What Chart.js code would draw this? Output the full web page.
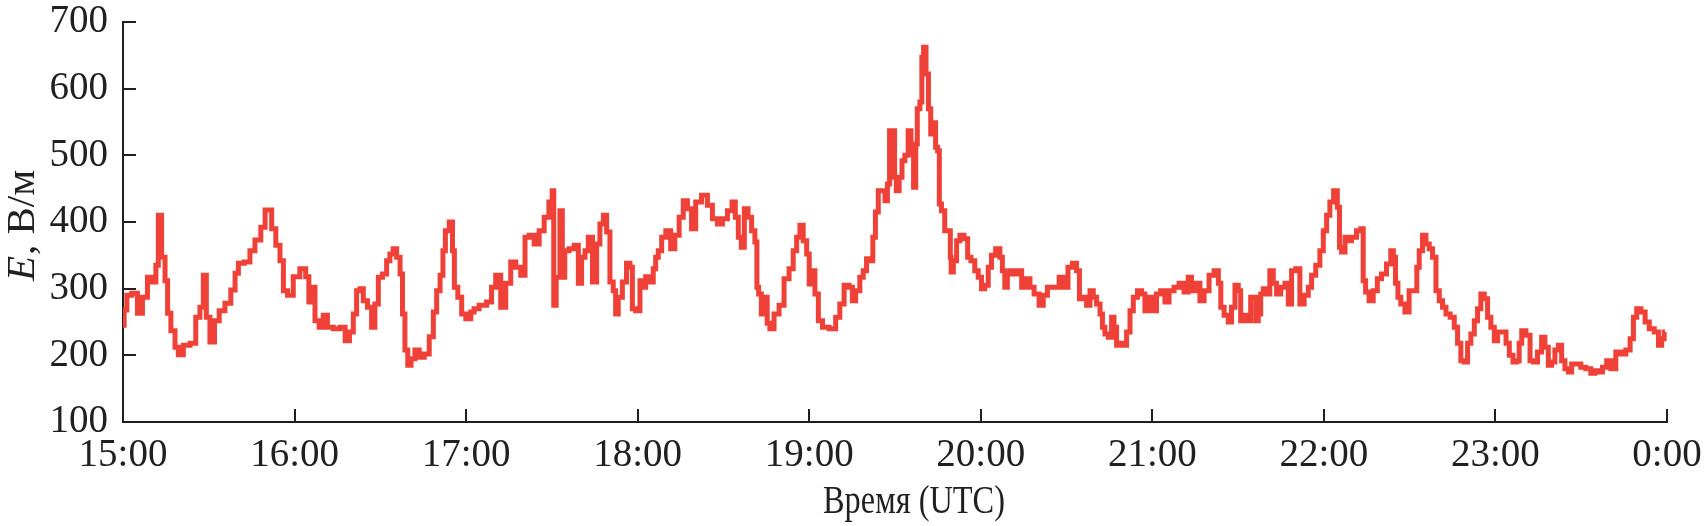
<!DOCTYPE html>
<html lang="ru">
<head>
  <meta charset="UTF-8">
  <title>E, В/м</title>
  <script src="https://cdn.jsdelivr.net/npm/chart.js"></script>
  <style>
    html, body { margin: 0; padding: 0; background: #fff; }
    #wrap { width: 1705px; height: 526px; position: relative; }
  </style>
</head>
<body>
  <div id="wrap"><canvas id="fieldChart"></canvas></div>

  <script>
    // minutes after 15:00 UTC
    const minutes = [
      0, 0.8, 1.9, 4.2, 5.9, 7.7, 9.4, 11.2, 11.8, 12.9, 14.1, 15.3, 15.9, 17.6, 18.8, 19.9,
      22.3, 24.6, 26.3, 27.5, 28.7, 29.6, 31.2, 32.8, 34.5, 36.8, 38.6, 39.8, 40.9, 43.8, 45,
      47.3, 49.1, 50.3, 51.4, 52.6, 54.3, 55.5, 56.7, 58.4, 60.7, 63, 64.8, 65.2, 66.6, 67.7,
      69.5, 70.6, 72.4, 74.7, 77, 78.4, 80, 81.1, 82.3, 83.5, 84.6, 86.4, 87.5, 88.7, 89.9,
      91.6, 92.8, 93.9, 95.1, 96.3, 97.5, 98, 99.2, 100, 101.5, 102.7, 104.5, 106.2, 108,
      109.1, 110.3, 111.5, 112.3, 113.2, 115, 115.5, 116.3, 117.9, 119, 120.8, 122.5, 123.1,
      126, 128.3, 129.5, 131.2, 133, 134.7, 136.5, 138.2, 140, 141.2, 142.9, 144.7, 146.4,
      148.2, 149.7, 150.5, 150.8, 152.2, 153.4, 153.9, 155.1, 156.9, 158.7, 159.8, 161, 162.2,
      163.3, 165.1, 166.2, 167.4, 168.6, 169.7, 170.9, 172, 172.6, 173.8, 175.5, 176.7, 177.9,
      178.4, 180.2, 181.4, 182.5, 183.1, 184.9, 186, 186.6, 187.8, 189, 190.7, 192.4, 193.6,
      195.4, 196.5, 198.3, 199.4, 201.2, 203.5, 205.3, 207, 208.8, 210.5, 212.3, 213.7, 214.6,
      215.8, 216.7, 217.9, 219.3, 220.4, 221.6, 221.8, 222.8, 223.7, 224.9, 225.7, 226.8,
      228.6, 230.3, 232.1, 233.8, 235, 236.2, 237.3, 238.5, 239.7, 240.3, 241.4, 242.6, 243.8,
      245.5, 248.4, 250.1, 251.3, 253.1, 254.8, 255.4, 257.1, 258.3, 259.5, 260.6, 261.8,
      262.7, 263.6, 264.7, 265.9, 267.1, 267.6, 268.6, 269.7, 270, 270.9, 272, 272.9, 274,
      275.2, 276, 277, 277.5, 278.1, 279.3, 279.5, 280.5, 281.2, 282.2, 282.8, 283.9, 284.5,
      285.3, 285.7, 286.8, 288, 289.2, 289.5, 289.8, 291, 292.1, 293.3, 295, 295.8, 297.3,
      298.5, 299.7, 300.8, 302, 303.2, 304.3, 306.1, 307.3, 307.8, 309, 309.6, 310.8, 311.9,
      313.7, 314.9, 316.6, 317.8, 319.5, 321.3, 322.4, 324.2, 326.5, 328.3, 329.8, 331.2,
      332.9, 334.1, 334.9, 336.4, 337.6, 338.8, 339.9, 341.1, 342.3, 342.8, 344, 345.2, 346.3,
      346.9, 348.1, 349.2, 350.4, 351.6, 352.8, 353.9, 355.7, 356.8, 358, 359.2, 360.9, 362,
      363.8, 365, 366.7, 368.5, 370.2, 372, 373.1, 374.3, 376.1, 377.2, 379, 380.7, 382.5,
      383.7, 384.2, 386, 387.1, 388.3, 389.5, 390.6, 391.2, 393, 394.1, 394.7, 395.9, 396.5,
      397.6, 398.2, 399.4, 400.5, 401.7, 402.9, 404, 405.8, 407, 408.1, 409.3, 411, 412.2,
      414, 415.1, 416.3, 418, 419.2, 420.4, 421.5, 422.7, 424.1, 425.3, 425.6, 426.8, 428,
      428.8, 430.5, 432.3, 433.5, 434, 435.2, 436.4, 438.1, 439.3, 441, 442.8, 444, 444.6,
      445.5, 446.3, 447.5, 449.2, 450.4, 452.2, 452.8, 453.9, 455.1, 456.3, 457.4, 458.6,
      459.8, 460.9, 462.1, 463.3, 465, 466.2, 467.3, 468.5, 469.7, 470.8, 472, 473.2, 474.3,
      475.5, 476.7, 477.8, 479, 480.2, 481.3, 483.1, 484.3, 485.4, 486.9, 488, 488.6, 489.8,
      491.5, 492.7, 493.8, 495.6, 496.7, 497.9, 499.1, 500.2, 501.4, 502.6, 503.7, 504.9,
      506.1, 507.2, 509, 510.7, 512.5, 514.2, 515.4, 516.6, 518.3, 519.5, 521.2, 523, 524.7,
      526.5, 527.7, 528.8, 530, 531.8, 532.9, 534.7, 536.4, 537.6, 538.7, 539.3
    ];

    // E, V/m
    const fieldValues = [
      245, 268, 290, 293, 263, 287, 317, 310, 335, 410, 347, 312, 263, 237, 212, 201,
      215, 218, 257, 272, 320, 257, 220, 252, 267, 278, 298, 323, 338, 340, 357,
      373, 392, 418, 418, 390, 365, 342, 297, 290, 318, 330, 318, 280, 302, 252,
      242, 260, 242, 240, 242, 222, 235, 262, 297, 300, 282, 272, 242, 277, 317,
      322, 342, 352, 360, 347, 322, 262, 208, 185, 195, 208, 197, 202, 228,
      265, 297, 320, 357, 387, 400, 357, 302, 287, 262, 255, 265, 270,
      275, 280, 302, 320, 272, 308, 340, 332, 320, 377, 380, 367, 387,
      407, 430, 447, 275, 317, 417, 317, 357, 360, 365, 308, 347, 357,
      377, 310, 367, 397, 410, 385, 310, 297, 262, 287, 310, 338, 332,
      270, 267, 312, 302, 318, 310, 330, 347, 357, 377, 387, 360, 380,
      407, 432, 420, 390, 430, 440, 425, 405, 397, 405, 417, 430, 407,
      377, 362, 420, 407, 387, 370, 302, 292, 262, 287, 248, 240,
      262, 275, 315, 330, 357, 377, 395, 372, 352, 307, 327, 292, 252,
      242, 240, 257, 277, 305, 302, 282, 297, 317, 327, 345, 342,
      377, 415, 447, 447, 432, 457, 537, 537, 467, 447, 467, 492, 500,
      537, 502, 452, 517, 570, 580, 647, 662, 622, 570, 532, 549, 512,
      507, 427, 417, 387, 387, 347, 325, 342, 372, 380, 375, 347, 342,
      327, 317, 300, 305, 332, 350, 360, 347, 327, 302, 322, 327, 322,
      327, 302, 315, 302, 292, 275, 290, 302, 302, 317, 302, 332,
      338, 327, 285, 287, 275, 297, 287, 277, 262, 242, 232, 227, 257,
      242, 215, 218, 215, 235, 267, 287, 297, 292, 267, 287, 267, 292,
      297, 280, 297, 302, 308, 295, 317, 297, 308, 282, 297, 320, 327,
      308, 272, 260, 250, 272, 305, 297, 252, 260, 252, 287, 287, 252,
      262, 292, 300, 292, 327, 308, 292, 302, 308, 277, 327, 330, 277,
      290, 302, 320, 335, 357, 387, 410, 430, 447, 422, 362, 355, 377,
      372, 377, 387, 390, 312, 295, 282, 297, 315, 322, 337, 357, 347,
      308, 287, 277, 265, 297, 297, 332, 357, 380, 367, 360, 347,
      297, 282, 272, 262, 257, 242, 218, 192, 190, 218, 232, 252, 270,
      292, 285, 257, 242, 222, 235, 235, 218, 200, 190, 192, 218, 237,
      230, 192, 190, 205, 227, 212, 185, 190, 208, 215, 192, 180,
      175, 187, 187, 182, 180, 173, 177, 175, 182, 192, 180, 205, 202,
      208, 225, 257, 270, 265, 250, 240, 235, 215, 225, 235
    ];

    const hourLabels = ['15:00', '16:00', '17:00', '18:00', '19:00', '20:00', '21:00', '22:00', '23:00', '0:00'];
    const yTitleItalic = 'E';
    const yTitleRest = ', В/м';
    const xTitle = 'Время (UTC)';

    const ink = '#231f20';
    const red = '#ef4137';
    const fontFamily = "'Liberation Serif', 'Times New Roman', serif";

    // axis titles: y needs an italic E, so both are drawn here
    const axisTitles = {
      id: 'axisTitles',
      afterDraw(chart) {
        const ctx = chart.ctx;
        ctx.save();
        ctx.fillStyle = ink;
        ctx.textBaseline = 'alphabetic';

        // x title, the original face is a bit narrower
        ctx.font = '39px ' + fontFamily;
        ctx.textAlign = 'center';
        ctx.fillText(xTitle, 914, 513, 182);

        ctx.translate(34, 226);
        ctx.rotate(-Math.PI / 2);
        ctx.textAlign = 'left';
        ctx.font = 'italic 41px ' + fontFamily;
        const w1 = ctx.measureText(yTitleItalic).width;
        ctx.font = '41px ' + fontFamily;
        const w2 = ctx.measureText(yTitleRest).width;
        const start = -(w1 + w2) / 2;
        ctx.font = 'italic 41px ' + fontFamily;
        ctx.fillText(yTitleItalic, start, 0);
        ctx.font = '41px ' + fontFamily;
        ctx.fillText(yTitleRest, start + w1 + 1, 0);
        ctx.restore();
      }
    };

    const points = minutes.map((m, i) => ({ x: m, y: fieldValues[i] }));

    const ctx = document.getElementById('fieldChart').getContext('2d');
    const fieldChart = new Chart(ctx, {
      type: 'line',
      data: {
        datasets: [{
          data: points,
          borderColor: red,
          borderWidth: 5,
          borderJoinStyle: 'miter',
          stepped: 'middle',
          pointRadius: 0,
          fill: false,
        }]
      },
      options: {
        responsive: true,
        maintainAspectRatio: false,
        animation: false,
        layout: { padding: { left: 0, top: 22, right: 38, bottom: 0 } },
        plugins: {
          legend: { display: false },
          tooltip: { enabled: false },
        },
        scales: {
          x: {
            type: 'linear',
            min: 0,
            max: 540,
            afterFit: (scale) => {
              scale.height = 104;
              scale.paddingLeft = 0;
              scale.paddingRight = 0;
            },
            ticks: {
              stepSize: 60,
              autoSkip: false,
              maxRotation: 0,
              padding: 23,
              color: ink,
              font: { family: fontFamily, size: 39 },
              callback: (value) => hourLabels[Math.round(value / 60)],
            },
            grid: {
              drawOnChartArea: false,
              tickLength: -13,
              color: ink,
              lineWidth: 2,
            },
            border: { color: ink, width: 2 },
          },
          y: {
            min: 100,
            max: 700,
            afterFit: (scale) => {
              scale.width = 123;
              scale.paddingTop = 0;
              scale.paddingBottom = 0;
            },
            ticks: {
              stepSize: 100,
              padding: 28,
              color: ink,
              font: { family: fontFamily, size: 39 },
            },
            grid: {
              drawOnChartArea: false,
              tickLength: -13,
              color: ink,
              lineWidth: 2,
            },
            border: { color: ink, width: 2 },
          }
        }
      },
      plugins: [axisTitles]
    });
  </script>
</body>
</html>
